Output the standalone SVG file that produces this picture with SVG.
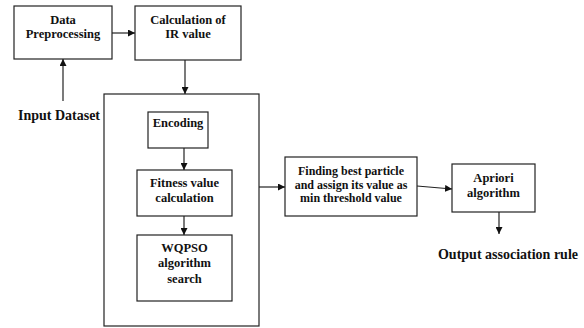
<svg xmlns="http://www.w3.org/2000/svg" width="584" height="328" viewBox="0 0 584 328">
<style>
rect{fill:#fff;stroke:#222;stroke-width:1.2}
text{font-family:"Liberation Serif","Times New Roman","DejaVu Serif",serif;font-weight:bold;font-size:12.5px;fill:#111;text-anchor:middle}
.big{font-size:14px}
.sm{font-size:12px}
.c line{stroke:#222;stroke-width:1.2;marker-end:url(#a)}
</style>
<defs>
<marker id="a" viewBox="0 0 10 10" refX="10" refY="5" markerWidth="7" markerHeight="7" markerUnits="userSpaceOnUse" orient="auto"><path d="M0,0L10,5L0,10z" fill="#111"/></marker>
</defs>
<rect x="0" y="0" width="584" height="328" style="stroke:none"/>
<g id="data-preprocessing"><rect x="14" y="6" width="98" height="53"/><text x="63" y="24">Data</text><text x="63" y="38">Preprocessing</text></g>
<g id="calc-ir"><rect x="135" y="6" width="106" height="54"/><text x="188" y="24">Calculation of</text><text x="188" y="38">IR value</text></g>
<g id="input-dataset"><text class="big" x="59" y="120">Input Dataset</text></g>
<g id="container"><rect x="104" y="94" width="155" height="232"/></g>
<g id="encoding"><rect x="148" y="112" width="60" height="36"/><text x="178" y="127">Encoding</text></g>
<g id="fitness"><rect x="137" y="170" width="95" height="46"/><text x="184.5" y="187">Fitness value</text><text x="184.5" y="202">calculation</text></g>
<g id="wqpso"><rect x="137" y="235" width="95" height="66"/><text x="184.5" y="252">WQPSO</text><text x="184.5" y="267">algorithm</text><text x="184.5" y="283">search</text></g>
<g id="finding"><rect x="285" y="157" width="132" height="59"/><text class="sm" x="351" y="175">Finding best particle</text><text class="sm" x="351" y="188.5">and assign its value as</text><text class="sm" x="351" y="202">min threshold value</text></g>
<g id="apriori"><rect x="452" y="164" width="83" height="48"/><text x="493.5" y="182">Apriori</text><text x="493.5" y="197">algorithm</text></g>
<g id="output"><text class="big" x="508" y="259">Output association rule</text></g>
<g class="c" id="connectors">
<line x1="112" y1="33" x2="135" y2="33"/>
<line x1="63" y1="101" x2="63" y2="59"/>
<line x1="185" y1="60" x2="185" y2="94"/>
<line x1="184" y1="148" x2="184" y2="170"/>
<line x1="184" y1="216" x2="184" y2="235"/>
<line x1="259" y1="187" x2="285" y2="187"/>
<line x1="417" y1="186" x2="452" y2="189"/>
<line x1="499" y1="212" x2="499" y2="234"/>
</g>
</svg>
